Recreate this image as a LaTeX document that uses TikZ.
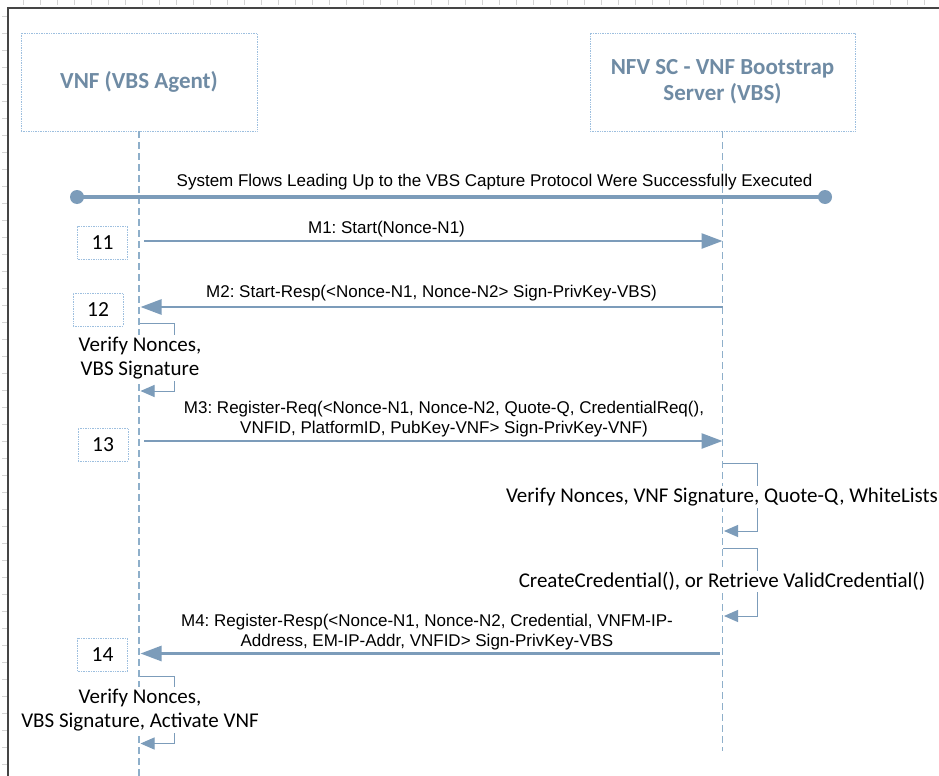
\documentclass[tikz,border=0pt]{standalone}
\usepackage{fontspec}
\setmainfont{Liberation Sans}
\newfontfamily\calfont{Carlito}
\usetikzlibrary{arrows.meta}
\frenchspacing
\definecolor{headtxt}{HTML}{6F8BA4}
\definecolor{linecol}{HTML}{7C9CBA}
\definecolor{lifecol}{HTML}{8EAFCA}
\definecolor{boxblue}{HTML}{9DBFDF}
\definecolor{framecol}{HTML}{454545}
\definecolor{tickcol}{HTML}{D4D4D4}
\tikzset{
  headbox/.style={draw=boxblue, densely dotted, line width=0.7bp, minimum height=98bp,
    font=\calfont\bfseries\fontsize{23bp}{27bp}\selectfont, text=headtxt, align=center},
  numbox/.style={draw=boxblue, densely dotted, line width=0.7bp, minimum width=50bp,
    minimum height=33bp, inner sep=0pt, font=\calfont\fontsize{21.5bp}{24bp}\selectfont},
  lifeline/.style={draw=lifecol, dash pattern=on 7bp off 4bp, line width=1.2bp},
  msgarrow/.style={draw=linecol, line width=2.6bp, -{Triangle[length=21bp,width=15bp]}},
  msglbl/.style={font=\fontsize{17bp}{20bp}\selectfont\frenchspacing, align=center, inner sep=0pt, anchor=base},
  selfarrow/.style={draw=linecol, line width=1bp, -{Triangle[length=14bp,width=12bp]}},
  notelbl/.style={font=\calfont\fontsize{21bp}{24.5bp}\selectfont\frenchspacing, fill=white, align=center,
    inner sep=1.5bp, anchor=base},
}
\begin{document}
\begin{tikzpicture}[x=1bp,y=-1bp]
\useasboundingbox (0,0) rectangle (939,776);
\fill[white] (0,0) rectangle (939,776);
% ruler ticks
\foreach \t in {23,40,...,930} \draw[tickcol, line width=0.8bp] (\t,0) -- (\t,5);
\foreach \t in {16,33,...,776} \draw[tickcol, line width=0.8bp] (2,\t) -- (7,\t);
% frame
\draw[framecol, line width=2bp] (8,776) -- (8,8) -- (939,8);

% heads
\node[headbox, minimum width=236bp] (vnf) at (139,82) {VNF (VBS Agent)};
\node[headbox, minimum width=265bp] (vbs) at (722.5,82) {NFV SC - VNF Bootstrap\\[-1bp]Server (VBS)};
\coordinate (vnfend) at (139,776);
\coordinate (vbsend) at (722.5,751);
\draw[lifeline] (vnf.south) -- (vnfend);
\draw[lifeline] (vbs.south) -- (vbsend);

% system flows bar
\coordinate (sysL) at (77,197);
\coordinate (sysR) at (825,197);
\draw[linecol, line width=4bp] (sysL) -- (sysR);
\fill[linecol] (sysL) circle (7bp);
\fill[linecol] (sysR) circle (7bp);
\node[msglbl] (syslbl) at (494.5,186) {System Flows Leading Up to the VBS Capture Protocol Were Successfully Executed};

% step boxes
\node[numbox] (b11) at (102.5,242.5) {11};
\node[numbox] (b12) at (98,309.5) {12};
\node[numbox] (b13) at (103,444.5) {13};
\node[numbox] (b14) at (102.5,655) {14};

% M1
\coordinate (m1a) at (144,241);
\coordinate (m1b) at (722.5,241);
\draw[msgarrow] (m1a) -- (m1b);
\node[msglbl] (m1lbl) at (386.5,233) {M1: Start(Nonce-N1)};

% M2
\coordinate (m2a) at (722.5,307);
\coordinate (m2b) at (140.5,307);
\draw[msgarrow] (m2a) -- (m2b);
\node[msglbl] (m2lbl) at (431.5,297) {M2: Start-Resp(<Nonce-N1, Nonce-N2> Sign-PrivKey-VBS)};

% self loop 1
\coordinate (s1a) at (139.5,323);
\coordinate (s1b) at (140.5,391);
\draw[selfarrow] (s1a) -- ++(35,0) |- (s1b);
\node[notelbl] (n1) at (140,375.5) {Verify Nonces,\\VBS Signature};

% M3
\coordinate (m3a) at (144,441);
\coordinate (m3b) at (722.5,441);
\draw[msgarrow] (m3a) -- (m3b);
\node[msglbl] (m3lbl) at (444,433) {M3: Register-Req(<Nonce-N1, Nonce-N2, Quote-Q, CredentialReq(),\\VNFID, PlatformID, PubKey-VNF> Sign-PrivKey-VNF)};

% self loop 2
\coordinate (s2a) at (723,463.5);
\coordinate (s2b) at (724,531);
\draw[selfarrow] (s2a) -- ++(34,0) |- (s2b);
\node[notelbl] (n2) at (722,502.5) {Verify Nonces, VNF Signature, Quote-Q, WhiteLists};

% self loop 3
\coordinate (s3a) at (723,548.5);
\coordinate (s3b) at (724,616);
\draw[selfarrow] (s3a) -- ++(34,0) |- (s3b);
\node[notelbl] (n3) at (722,587.5) {CreateCredential(), or Retrieve ValidCredential()};

% M4
\coordinate (m4a) at (719.5,653.5);
\coordinate (m4b) at (140.5,653.5);
\draw[msgarrow] (m4a) -- (m4b);
\node[msglbl] (m4lbl) at (427,646.5) {M4: Register-Resp(<Nonce-N1, Nonce-N2, Credential, VNFM-IP-\\Address, EM-IP-Addr, VNFID> Sign-PrivKey-VBS};

% self loop 4
\coordinate (s4a) at (139.5,676);
\coordinate (s4b) at (140.5,743.5);
\draw[selfarrow] (s4a) -- ++(35,0) |- (s4b);
\node[notelbl] (n4) at (140,727.5) {Verify Nonces,\\VBS Signature, Activate VNF};
\end{tikzpicture}
\end{document}
